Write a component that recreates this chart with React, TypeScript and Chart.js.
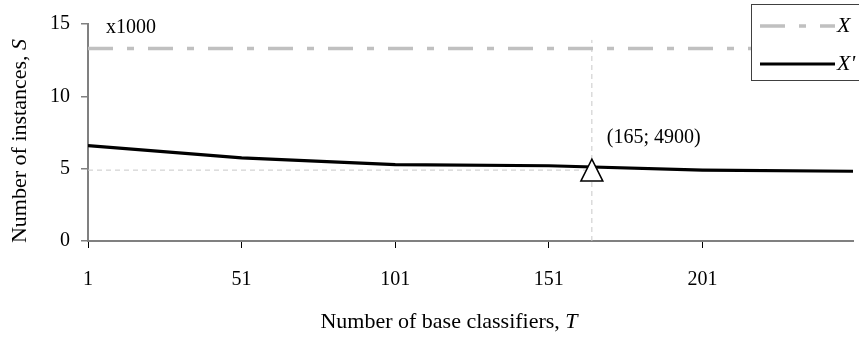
import React, { useEffect, useRef } from "react";
import { Chart, registerables } from "chart.js";

Chart.register(...registerables);

const FONT = '"Liberation Serif", "Times New Roman", serif';

// ---- data ----
const categories = [1, 51, 101, 151, 201, 250];
const reducedSeries = [6.6, 5.75, 5.28, 5.2, 4.9, 4.82]; // X'
const fullRange = [1, 250];
const fullSeries = [13.3, 13.3]; // X
const xTickLabels = [1, 51, 101, 151, 201];
const yTickLabels = [0, 5, 10, 15];
const markerPoint = { x: 165, y: 4.9 };
const markerLabel = "(165; 4900)";
const guideTop = 13.9;
const unitLabel = "x1000";
const legendNames = ["X", "X'"];

const GRAY_LINE = "#c0c0c0";
const GUIDE = "#c8c8c8";
const AXIS = "#808080";
const X_DASH = [25, 14, 7, 14];
const TITLE_SIZE = 22;

function drawMixed(ctx: CanvasRenderingContext2D, regular: string, italic: string, cx: number, cy: number) {
  ctx.font = `${TITLE_SIZE}px ${FONT}`;
  const w1 = ctx.measureText(regular).width;
  ctx.font = `italic ${TITLE_SIZE}px ${FONT}`;
  const w2 = ctx.measureText(italic).width;
  const start = cx - (w1 + w2) / 2;
  ctx.textAlign = "left";
  ctx.textBaseline = "middle";
  ctx.font = `${TITLE_SIZE}px ${FONT}`;
  ctx.fillText(regular, start, cy);
  ctx.font = `italic ${TITLE_SIZE}px ${FONT}`;
  ctx.fillText(italic, start + w1, cy);
}

const overlay = {
  id: "overlay",
  afterDatasetsDraw(chart: any) {
    const { ctx, scales, chartArea } = chart;
    const xs = scales.x;
    const ys = scales.y;
    const px = xs.getPixelForValue(markerPoint.x);
    const py = ys.getPixelForValue(markerPoint.y);
    ctx.save();
    // marker triangle
    ctx.beginPath();
    ctx.moveTo(px, py - 11);
    ctx.lineTo(px + 11, py + 11);
    ctx.lineTo(px - 11, py + 11);
    ctx.closePath();
    ctx.fillStyle = "#ffffff";
    ctx.fill();
    ctx.lineWidth = 1.5;
    ctx.strokeStyle = "#000000";
    ctx.stroke();
    // texts
    ctx.fillStyle = "#000000";
    ctx.font = `20px ${FONT}`;
    ctx.textAlign = "left";
    ctx.textBaseline = "alphabetic";
    ctx.fillText(markerLabel, px + 15, py - 27);
    ctx.fillText(unitLabel, chartArea.left + 18, chartArea.top + 9);
    // axis titles
    drawMixed(ctx, "Number of base classifiers, ", "T", 449, 322);
    ctx.save();
    ctx.translate(20, 141);
    ctx.rotate(-Math.PI / 2);
    drawMixed(ctx, "Number of instances, ", "S", 0, 0);
    ctx.restore();
    // legend
    ctx.fillStyle = "#ffffff";
    ctx.fillRect(751.5, 4.5, 120, 76);
    ctx.strokeStyle = "#404040";
    ctx.lineWidth = 1;
    ctx.strokeRect(751.5, 4.5, 120, 76);
    ctx.lineWidth = 3.5;
    ctx.strokeStyle = GRAY_LINE;
    ctx.setLineDash(X_DASH);
    ctx.beginPath();
    ctx.moveTo(760, 26);
    ctx.lineTo(835, 26);
    ctx.stroke();
    ctx.setLineDash([]);
    ctx.strokeStyle = "#000000";
    ctx.lineWidth = 3.2;
    ctx.beginPath();
    ctx.moveTo(760, 64);
    ctx.lineTo(835, 64);
    ctx.stroke();
    ctx.fillStyle = "#000000";
    ctx.font = `italic 22px ${FONT}`;
    ctx.textBaseline = "middle";
    ctx.fillText(legendNames[0], 837, 26);
    ctx.fillText(legendNames[1], 837, 64);
    ctx.restore();
  },
};

export default function App() {
  const ref = useRef<HTMLCanvasElement | null>(null);
  useEffect(() => {
    if (!ref.current) return;
    const chart = new Chart(ref.current, {
      type: "line",
      data: {
        datasets: [
          {
            label: legendNames[1],
            data: categories.map((c, i) => ({ x: c, y: reducedSeries[i] })),
            borderColor: "#000000",
            borderWidth: 3.2,
            pointRadius: 0,
            tension: 0,
          },
          {
            label: legendNames[0],
            data: fullRange.map((c, i) => ({ x: c, y: fullSeries[i] })),
            borderColor: GRAY_LINE,
            borderWidth: 3.5,
            borderDash: X_DASH,
            pointRadius: 0,
          },
          {
            label: "guide-h",
            data: [
              { x: categories[0], y: markerPoint.y },
              { x: markerPoint.x, y: markerPoint.y },
            ],
            borderColor: GUIDE,
            borderWidth: 1,
            borderDash: [5, 4],
            pointRadius: 0,
          },
          {
            label: "guide-v",
            data: [
              { x: markerPoint.x, y: 0 },
              { x: markerPoint.x, y: guideTop },
            ],
            borderColor: GUIDE,
            borderWidth: 1,
            borderDash: [5, 4],
            pointRadius: 0,
          },
        ],
      },
      options: {
        animation: false,
        responsive: false,
        maintainAspectRatio: false,
        layout: { padding: { left: 0, right: 6, top: 24, bottom: 0 } },
        plugins: { legend: { display: false }, tooltip: { enabled: false } },
        scales: {
          x: {
            type: "linear",
            min: fullRange[0],
            max: fullRange[1],
            afterBuildTicks: (s: any) => {
              s.ticks = xTickLabels.map((v) => ({ value: v }));
            },
            afterFit: (s: any) => {
              s.height = 103;
            },
            grid: { drawOnChartArea: false, drawTicks: true, tickLength: 7, color: "#000000", lineWidth: 1 },
            border: { display: true, color: AXIS, width: 2 },
            ticks: {
              font: { family: FONT, size: 20 },
              color: "#000000",
              padding: 20,
              maxRotation: 0,
              autoSkip: false,
            },
          },
          y: {
            type: "linear",
            min: yTickLabels[0],
            max: yTickLabels[yTickLabels.length - 1],
            afterBuildTicks: (s: any) => {
              s.ticks = yTickLabels.map((v) => ({ value: v }));
            },
            afterFit: (s: any) => {
              s.width = 88;
            },
            grid: { drawOnChartArea: false, drawTicks: true, tickLength: 7, color: AXIS, lineWidth: 1.5 },
            border: { display: true, color: AXIS, width: 2 },
            ticks: {
              font: { family: FONT, size: 20 },
              color: "#000000",
              padding: 11,
            },
          },
        },
      },
      plugins: [overlay],
    });
    return () => chart.destroy();
  }, []);
  return (
    <div style={{ position: "fixed", left: 0, top: 0, width: 859, height: 344, background: "#fff" }}>
      <canvas ref={ref} width={859} height={344} style={{ width: 859, height: 344, display: "block" }} />
    </div>
  );
}
